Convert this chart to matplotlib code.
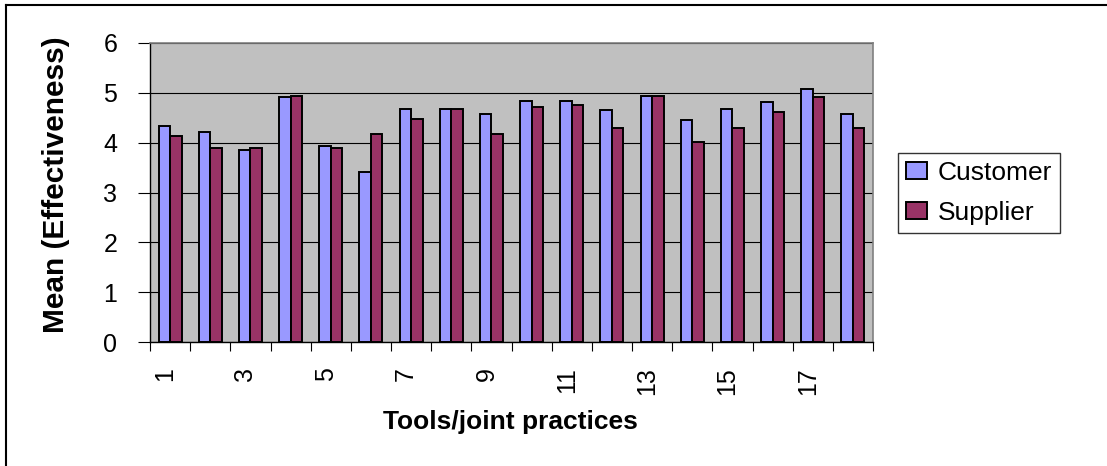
import matplotlib
matplotlib.use("Agg")
import matplotlib.pyplot as plt
import numpy as np
from matplotlib.lines import Line2D
from matplotlib.transforms import ScaledTranslation

# mean effectiveness per tool / joint practice
practices = list(range(1, 19))
customer = [4.33, 4.21, 3.86, 4.92, 3.94, 3.42, 4.68, 4.68, 4.57,
            4.84, 4.84, 4.65, 4.94, 4.45, 4.68, 4.82, 5.08, 4.57]
supplier = [4.13, 3.90, 3.90, 4.94, 3.90, 4.17, 4.48, 4.68, 4.17,
            4.72, 4.75, 4.30, 4.94, 4.01, 4.30, 4.61, 4.92, 4.30]
y_ticks = [0, 1, 2, 3, 4, 5, 6]

CUST = "#9999FF"
SUPP = "#993366"
PLOT_BG = "#C0C0C0"

plt.rcParams["font.family"] = ["Liberation Sans", "DejaVu Sans"]

W, H = 1107, 466
fig = plt.figure(figsize=(W / 100, H / 100), dpi=100)
ax = fig.add_axes([150 / W, 1 - 342 / H, (873 - 150) / W, (342 - 43) / H])
ax.set_facecolor(PLOT_BG)

x = np.arange(len(practices))
bw = 0.286
ax.bar(x - bw / 2, customer, bw, color=CUST, edgecolor="black",
       linewidth=1.4, label="Customer", zorder=3)
ax.bar(x + bw / 2, supplier, bw, color=SUPP, edgecolor="black",
       linewidth=1.4, label="Supplier", zorder=3)

ax.set_xlim(-0.5, len(practices) - 0.5)
ax.set_ylim(0, 6)
ax.set_yticks(y_ticks)
ax.yaxis.grid(True, color="black", linewidth=0.8, zorder=1)
ax.set_axisbelow(True)

# category boundaries carry the tick marks, odd practices get labels
ax.set_xticks(np.arange(-0.5, len(practices), 1.0))
ax.set_xticklabels([])
ax.set_xticks(x[::2], minor=True)
ax.set_xticklabels([str(p) for p in practices[::2]], minor=True,
                   rotation=90, va="top", ha="center", fontsize=18)
ax.tick_params(axis="x", which="major", direction="out", length=6.5,
               width=0.8, color="black")
ax.tick_params(axis="x", which="minor", length=0, pad=18)
ax.tick_params(axis="y", direction="out", length=8.6, width=0.8,
               pad=15, labelsize=18)
shift = ScaledTranslation(-5 / 100, 0, fig.dpi_scale_trans)
for lab in ax.get_xticklabels(minor=True):
    lab.set_transform(lab.get_transform() + shift)

for side in ("top", "right"):
    ax.spines[side].set_color("#808080")
    ax.spines[side].set_linewidth(1.2)
for side in ("left", "bottom"):
    ax.spines[side].set_color("black")
    ax.spines[side].set_linewidth(1.0)

fig.text(56 / W, 1 - 185 / H, "Mean (Effectiveness)", rotation=90,
         ha="center", va="center", fontsize=21.5, fontweight="bold")
fig.text(510 / W, 1 - 422 / H, "Tools/joint practices", ha="center",
         va="center", fontsize=19, fontweight="bold")

leg = fig.legend(loc="upper left", bbox_to_anchor=(898 / W, 1 - 153 / H),
                 bbox_transform=fig.transFigure, fontsize=19, frameon=True,
                 fancybox=False, shadow=False, borderaxespad=0,
                 handlelength=0.8, handleheight=0.65, handletextpad=0.4,
                 borderpad=0.3, labelspacing=0.6)
leg.get_frame().set_edgecolor("black")
leg.get_frame().set_linewidth(1.0)

# outer chart border: only the left and top edges fall inside the image
fig.add_artist(Line2D([6 / W, 6 / W], [0, 1 - 5 / H], color="black",
                      linewidth=1.5, transform=fig.transFigure))
fig.add_artist(Line2D([6 / W, 1], [1 - 5 / H, 1 - 5 / H], color="black",
                      linewidth=1.5, transform=fig.transFigure))

fig.savefig("out.png", dpi=100, facecolor="white")
